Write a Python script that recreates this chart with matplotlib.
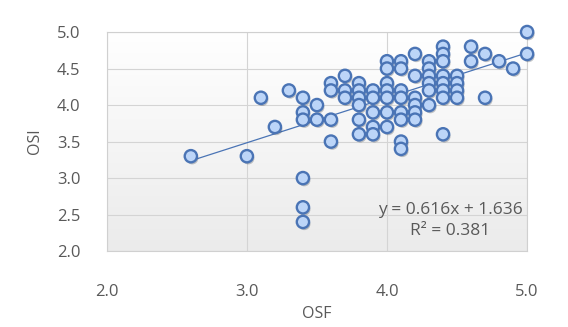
import numpy as np
import matplotlib
matplotlib.use("Agg")
import matplotlib.pyplot as plt
import matplotlib.patheffects as pe

# OSF / OSI pairs
osf = [2.6, 3.0, 3.1, 3.2, 3.3,
       3.4, 3.4, 3.4, 3.4, 3.4, 3.4,
       3.5, 3.5,
       3.6, 3.6, 3.6, 3.6,
       3.7, 3.7, 3.7,
       3.8, 3.8, 3.8, 3.8, 3.8, 3.8,
       3.9, 3.9, 3.9, 3.9, 3.9,
       4.0, 4.0, 4.0, 4.0, 4.0, 4.0, 4.0,
       4.1, 4.1, 4.1, 4.1, 4.1, 4.1, 4.1, 4.1,
       4.2, 4.2, 4.2, 4.2, 4.2, 4.2,
       4.3, 4.3, 4.3, 4.3, 4.3, 4.3,
       4.4, 4.4, 4.4, 4.4, 4.4, 4.4, 4.4, 4.4,
       4.5, 4.5, 4.5, 4.5,
       4.6, 4.6, 4.7, 4.7, 4.8, 4.9, 5.0, 5.0]
osi = [3.3, 3.3, 4.1, 3.7, 4.2,
       4.1, 3.9, 3.8, 3.0, 2.6, 2.4,
       4.0, 3.8,
       4.3, 4.2, 3.8, 3.5,
       4.4, 4.2, 4.1,
       4.3, 4.2, 4.1, 4.0, 3.8, 3.6,
       4.2, 4.1, 3.9, 3.7, 3.6,
       4.6, 4.5, 4.3, 4.2, 4.1, 3.9, 3.7,
       4.6, 4.5, 4.2, 4.1, 3.9, 3.8, 3.5, 3.4,
       4.7, 4.4, 4.1, 4.0, 3.9, 3.8,
       4.6, 4.5, 4.4, 4.3, 4.2, 4.0,
       4.8, 4.7, 4.6, 4.4, 4.3, 4.2, 4.1, 3.6,
       4.4, 4.3, 4.2, 4.1,
       4.8, 4.6, 4.7, 4.1, 4.6, 4.5, 5.0, 4.7]
slope, intercept, r2 = 0.616, 1.636, 0.381
xticks = [2.0, 3.0, 4.0, 5.0]
yticks = [2.0, 2.5, 3.0, 3.5, 4.0, 4.5, 5.0]

plt.rcParams["font.family"] = ["Open Sans", "DejaVu Sans"]
TXT = "#595959"
BLUE = "#4a74b5"

fig = plt.figure(figsize=(5.68, 3.27), dpi=100)
ax = fig.add_axes([0.188, 0.232, 0.74, 0.670])

# soft white-to-grey plot background
grad = np.linspace(0, 1, 256).reshape(-1, 1)
ax.imshow(grad, extent=(2, 5, 2, 5), aspect="auto", origin="upper",
          cmap=matplotlib.colors.LinearSegmentedColormap.from_list("bg", ["#ffffff", "#ebebeb"]),
          zorder=0)

ax.set_xlim(2, 5); ax.set_ylim(2, 5)
ax.set_xticks(xticks); ax.set_yticks(yticks)
ax.set_xticklabels([f"{t:.1f}" for t in xticks])
ax.set_yticklabels([f"{t:.1f}" for t in yticks])
ax.grid(color="#d4d4d4", linewidth=0.8, zorder=1)
ax.set_axisbelow(True)
for s in ax.spines.values():
    s.set_color("#d0d0d0"); s.set_linewidth(0.8)
ax.tick_params(length=0, labelsize=12, colors=TXT)
ax.tick_params(axis="x", pad=24)
ax.tick_params(axis="y", pad=19)

xl = np.array([min(osf), max(osf)])
ax.plot(xl, slope * xl + intercept, color=BLUE, linewidth=0.9, zorder=2)

sc = ax.scatter(osf, osi, s=78, facecolor="#bcd5f8", edgecolor=BLUE, linewidth=1.7,
                zorder=3, clip_on=False)
sc.set_path_effects([pe.SimplePatchShadow(offset=(1, -1.5), alpha=0.3), pe.Normal()])

ax.text(4.45, 2.57, f"y = {slope:.3f}x + {intercept:.3f}", ha="center", va="center",
        fontsize=12.5, color=TXT, zorder=4)
ax.text(4.45, 2.28, f"R² = {r2:.3f}", ha="center", va="center", fontsize=12.5, color=TXT, zorder=4)

ax.set_xlabel("OSF", fontsize=11.5, color=TXT, labelpad=4)
ax.set_ylabel("OSI", fontsize=11.5, color=TXT, labelpad=10)

fig.savefig("out.png", dpi=100)
